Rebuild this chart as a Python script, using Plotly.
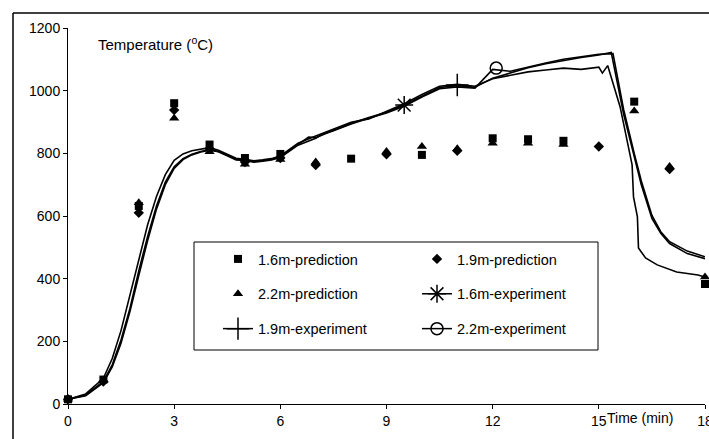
import plotly.graph_objects as go

# ---------------- data ----------------
t_pred = list(range(0, 19))
pred_16 = [15, 78, 632, 960, 828, 785, 798, None, 783, None, 795, None, 848, 845, 840, None, 965, None, 383]
pred_19 = [15, 72, 610, 938, 815, 772, 785, 763, None, 797, None, 808, None, None, None, 822, None, 750, None]
pred_22 = [15, 75, 642, 912, 805, 765, 780, 772, None, 806, 822, 815, 832, 832, 828, None, 935, 758, 405]

t_exp16 = [0, 0.5, 1, 1.25, 1.5, 1.75, 2, 2.25, 2.5, 2.75, 3, 3.25, 3.5, 3.75, 4, 4.25, 4.5, 4.75, 5,
           5.25, 5.5, 5.75, 6, 6.5, 6.8, 7, 7.5, 8, 8.5, 9, 9.5, 10, 10.5, 11, 11.5, 12, 12.5, 13, 13.5,
           14, 14.5, 15, 15.35, 15.7, 16, 16.2, 16.5, 16.75, 17, 17.5, 18]
exp_16 = [15, 28, 72, 125, 205, 305, 425, 535, 632, 708, 757, 783, 797, 806, 812, 806, 794, 781, 779,
          774, 777, 781, 789, 828, 852, 850, 874, 896, 914, 931, 954, 983, 1010, 1016, 1011, 1040, 1056,
          1073, 1086, 1097, 1106, 1114, 1122, 925, 790, 700, 592, 545, 512, 480, 464]

t_exp19 = [0, 0.5, 1, 1.25, 1.5, 1.75, 2, 2.25, 2.5, 2.75, 3, 3.25, 3.5, 3.75, 4, 4.25, 4.5, 4.75, 5,
           5.25, 5.5, 5.75, 6, 6.5, 7, 7.5, 8, 8.5, 9, 9.5, 10, 10.5, 11, 11.5, 12, 12.5, 13, 13.5, 14,
           14.5, 15, 15.1, 15.25, 15.6, 15.94, 15.98, 16.09, 16.12, 16.32, 16.65, 17.2, 17.8, 18]
exp_19 = [15, 32, 82, 145, 235, 345, 462, 572, 662, 732, 778, 798, 808, 814, 818, 810, 797, 784, 781,
          776, 779, 783, 792, 832, 855, 877, 899, 910, 934, 958, 988, 1014, 1020, 1014, 1038, 1050, 1060,
          1066, 1072, 1068, 1075, 1056, 1080, 949, 763, 661, 597, 498, 466, 444, 421, 412, 405]

t_exp22 = [0, 0.5, 1, 1.25, 1.5, 1.75, 2, 2.25, 2.5, 2.75, 3, 3.25, 3.5, 3.75, 4, 4.25, 4.5, 4.75, 5,
           5.25, 5.5, 5.75, 6, 6.5, 7, 7.2, 7.5, 8, 8.5, 9, 9.5, 10, 10.5, 11, 11.5, 12, 12.5, 13, 13.5,
           14, 14.5, 15, 15.4, 15.7, 16, 16.2, 16.5, 16.75, 17, 17.5, 18]
exp_22 = [15, 26, 68, 118, 195, 295, 410, 522, 622, 700, 752, 780, 795, 804, 810, 805, 792, 779, 777,
          772, 775, 779, 787, 826, 848, 862, 872, 894, 912, 929, 950, 980, 1006, 1012, 1008, 1068, 1062,
          1076, 1088, 1100, 1108, 1116, 1118, 940, 800, 712, 602, 550, 518, 488, 470]

# single marked points on the experiment curves
mark_t = {"1.6m": 9.5, "1.9m": 11.0, "2.2m": 12.1}
mark_T = {"1.6m": 954, "1.9m": 1018, "2.2m": 1072}

x_ticks = [0, 3, 6, 9, 12, 15, 18]
y_ticks = [0, 200, 400, 600, 800, 1000, 1200]

FONT = "Liberation Sans, Arial, sans-serif"
BLACK = "#000000"

fig = go.Figure()

def pred_trace(y, name, symbol, size, legend):
    return go.Scatter(x=t_pred, y=y, mode="markers", name=name, legend=legend, legendgroup=name,
                      cliponaxis=False,
                      marker=dict(symbol=symbol, size=size, color=BLACK, line=dict(width=0)))

def exp_line(t, y):
    return go.Scatter(x=t, y=y, mode="lines", showlegend=False, hoverinfo="skip",
                      line=dict(color=BLACK, width=1.6))

def exp_mark(key, name, symbol, size, legend):
    return go.Scatter(x=[mark_t[key]], y=[mark_T[key]], mode="lines+markers", name=name,
                      legend=legend, legendgroup=name,
                      line=dict(color=BLACK, width=1.5),
                      marker=dict(symbol=symbol, size=size, color=BLACK,
                                  line=dict(color=BLACK, width=1.5)))

# lines first
fig.add_trace(exp_line(t_exp16, exp_16))
fig.add_trace(exp_line(t_exp19, exp_19))
fig.add_trace(exp_line(t_exp22, exp_22))

# legend column 1
fig.add_trace(pred_trace(pred_16, "1.6m-prediction", "square", 8, "legend"))
fig.add_trace(pred_trace(pred_22, "2.2m-prediction", "triangle-up", 9, "legend"))
fig.add_trace(exp_mark("1.9m", "1.9m-experiment", "cross-thin-open", 16, "legend"))
# legend column 2
fig.add_trace(pred_trace(pred_19, "1.9m-prediction", "diamond", 8, "legend2"))
fig.add_trace(exp_mark("1.6m", "1.6m-experiment", "asterisk-open", 15, "legend2"))
fig.add_trace(exp_mark("2.2m", "2.2m-experiment", "circle-open", 12, "legend2"))

W, H = 709, 439
ML, MR, MT, MB = 68, 4, 28, 35
PW, PH = W - ML - MR, H - MT - MB

def px_x(p):
    return (p - ML) / PW

def px_y(p):
    return (H - MB - p) / PH

legend_common = dict(bgcolor="rgba(0,0,0,0)", borderwidth=0, font=dict(size=14.5, color=BLACK, family=FONT),
                     tracegroupgap=13, traceorder="grouped", xanchor="left", yanchor="top",
                     orientation="v")

fig.update_layout(
    width=W, height=H,
    margin=dict(l=ML, r=MR, t=MT, b=MB, pad=0, autoexpand=False),
    paper_bgcolor="white", plot_bgcolor="white",
    font=dict(family=FONT, size=14, color=BLACK),
    showlegend=True,
    legend=dict(x=px_x(218), y=px_y(243), **legend_common),
    legend2=dict(x=px_x(417), y=px_y(243), **legend_common),
    xaxis=dict(range=[0, 18], tickvals=x_ticks, ticktext=[str(v) for v in x_ticks],
               showline=True, linecolor=BLACK, linewidth=1, ticks="outside", ticklen=4,
               tickcolor=BLACK, showgrid=False, zeroline=False, tickfont=dict(size=14),
               ticklabeloverflow="allow", automargin=False),
    yaxis=dict(range=[0, 1200], tickvals=y_ticks, ticktext=[str(v) for v in y_ticks],
               showline=True, linecolor=BLACK, linewidth=1, ticks="outside", ticklen=4,
               tickcolor=BLACK, showgrid=False, zeroline=False, tickfont=dict(size=14),
               ticklabeloverflow="allow", automargin=False),
    annotations=[
        dict(text="Temperature (<sup>o</sup>C)", xref="paper", yref="paper",
             x=px_x(96), y=px_y(44), xanchor="left", yanchor="middle", showarrow=False,
             font=dict(size=15, color=BLACK, family=FONT)),
        dict(text="Time (min)", xref="paper", yref="paper",
             x=px_x(605), y=px_y(418), xanchor="left", yanchor="middle", showarrow=False,
             font=dict(size=14, color=BLACK, family=FONT)),
    ],
    shapes=[
        # legend frame
        dict(type="rect", xref="paper", yref="paper", x0=px_x(194), x1=px_x(598),
             y0=px_y(350), y1=px_y(242), line=dict(color=BLACK, width=1), layer="above"),
        # outer chart frame (left and top edges)
        dict(type="line", xref="paper", yref="paper", x0=px_x(13), x1=px_x(13),
             y0=px_y(13), y1=px_y(445), line=dict(color=BLACK, width=1.5)),
        dict(type="line", xref="paper", yref="paper", x0=px_x(13), x1=px_x(715),
             y0=px_y(13), y1=px_y(13), line=dict(color=BLACK, width=1.5)),
    ],
)

fig.write_html("out.html")
